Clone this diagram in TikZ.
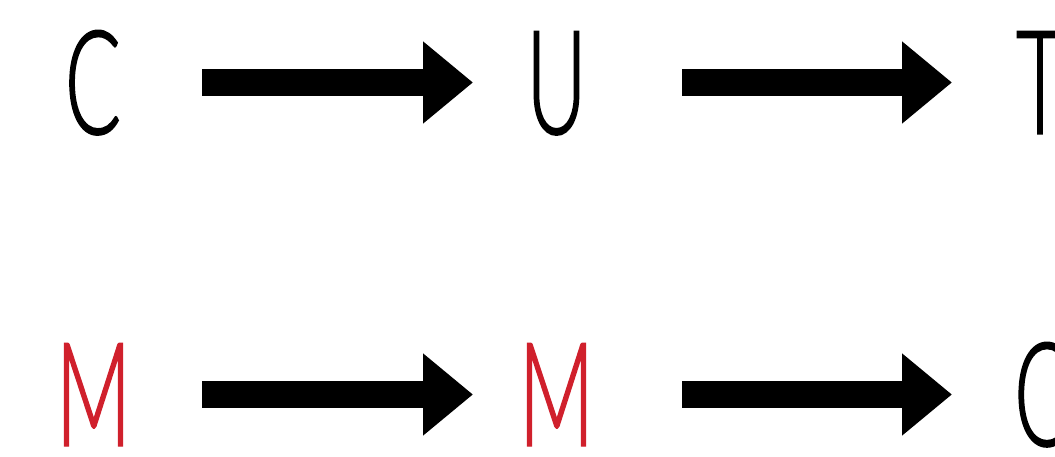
\documentclass[tikz,border=0pt]{standalone}
\usepackage{fontspec}
\usetikzlibrary{arrows.meta}
% light, condensed sans for the letters
\IfFontExistsTF{Lato Light}{%
  \newfontfamily\glyphfont{Lato Light}[FakeStretch=0.57,FakeBold=1]}{%
  \IfFontExistsTF{Open Sans Light}{%
    \newfontfamily\glyphfont{Open Sans Light}[FakeStretch=0.57,FakeBold=1]}{%
    \newfontfamily\glyphfont{Liberation Sans}[FakeStretch=0.57]}}
\definecolor{markred}{RGB}{208,32,44}
\tikzset{
  letter/.style={font=\glyphfont\fontsize{145}{145}\selectfont, inner sep=0pt,
    text height=103pt, text depth=0pt, anchor=base},
  fatarrow/.style={line width=27pt,
    -{Triangle[length=50pt,width=79pt]}}
}
\begin{document}
\begin{tikzpicture}[x=1pt,y=-1pt]
  \useasboundingbox (0,0) rectangle (1055,457);
  % top row
  \node[letter] (c) at (93,134) {C};
  \node[letter] (u) at (556.5,134) {U};
  \node[letter] (t) at (1040,134) {T};
  % bottom row
  \node[letter, text=markred] (m1) at (93.5,446) {M};
  \node[letter, text=markred] (m2) at (556.5,446) {M};
  \node[letter] (q) at (1047,446) {Q};
  % connectors
  \draw[fatarrow, shorten <=109pt, shorten >=83.5pt] (c.center) -- (u.center);
  \draw[fatarrow, shorten <=125.5pt, shorten >=88pt] (u.center) -- (t.center);
  \draw[fatarrow, shorten <=108.5pt, shorten >=83.5pt] (m1.center) -- (m2.center);
  \draw[fatarrow, shorten <=125.5pt, shorten >=95pt] (m2.center) -- (q.center);
\end{tikzpicture}
\end{document}
